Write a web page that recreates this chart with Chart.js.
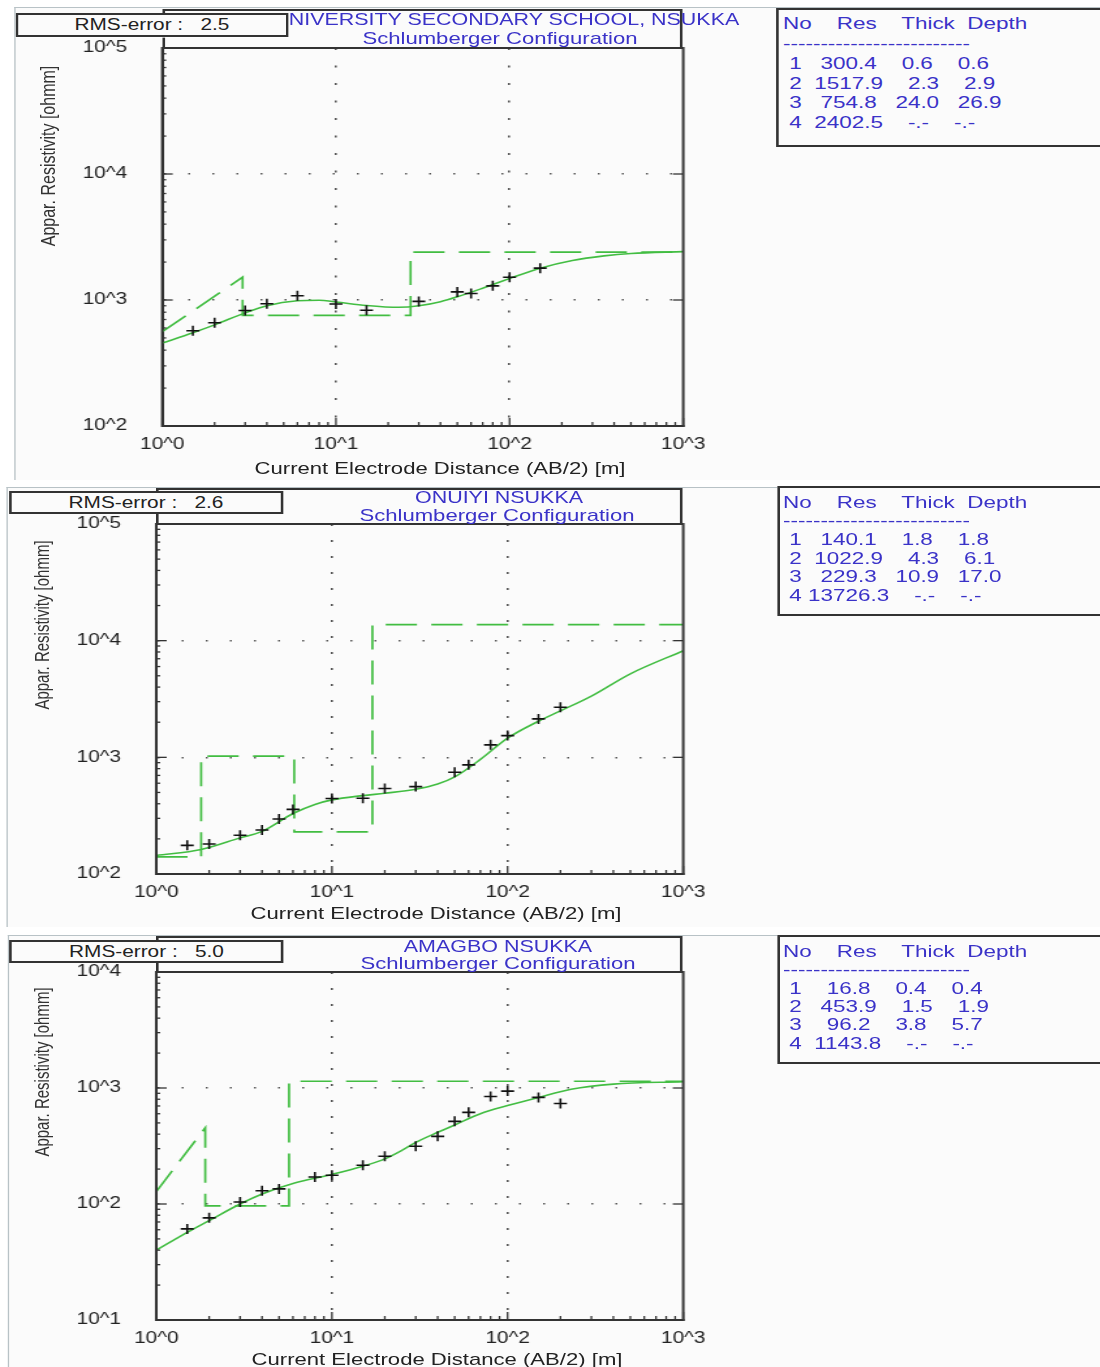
<!DOCTYPE html>
<html>
<head>
<meta charset="utf-8">
<script src="https://cdn.jsdelivr.net/npm/chart.js@4.4.0/dist/chart.umd.min.js"></script>
<style>
  body { margin: 0; background: #fff; width: 1100px; height: 1367px; overflow: hidden; font-family: "Liberation Sans", Arial, sans-serif; }
  /* the picture is stretched sideways, so the whole page is drawn narrow and scaled */
  #page { position: absolute; left: 0; top: 0; width: 847px; height: 1367px; transform: scaleX(1.3); transform-origin: 0 0; }
  #page div { position: absolute; box-sizing: border-box; }
  .frame { border-left: 1px solid #b8c2c6; border-top: 1px solid #b8c2c6; background: #fbfbfb; }
  .box { border: 2px solid #333; background: #fbfbfb; }
  .txt { white-space: pre; }
</style>
</head>
<body>
<div id="page"></div>
<script>
const S = 1.3;
const u = X => X / S;
const FONT = '"Liberation Sans", Arial, sans-serif';
const GREEN = '#42bd42';
const BLUE = '#3a32c8';

const xTicks = [1, 10, 100, 1000];

// UNIVERSITY SECONDARY SCHOOL
const p1Title = ['NIVERSITY SECONDARY SCHOOL, NSUKKA', 'Schlumberger Configuration'];
const p1Rms = '2.5';
const p1YTicks = [100, 1000, 10000, 100000];
const p1ObsX = [1.5, 2, 3, 4, 6, 10, 15, 30, 50, 60, 80, 100, 150];
const p1ObsY = [570, 660, 825, 935, 1080, 930, 830, 975, 1160, 1125, 1295, 1515, 1790];
const p1FitX = [1, 1.5, 2, 3, 4, 6, 8, 10, 15, 23, 30, 40, 50, 70, 100, 150, 230, 350, 500, 1000];
const p1FitY = [455, 550, 635, 790, 900, 985, 995, 965, 905, 875, 900, 970, 1060, 1240, 1480, 1790, 2060, 2240, 2340, 2420];
const p1ModelX = [1, 2.9, 2.9, 26.9, 26.9, 1000];
const p1ModelY = [560, 1517.9, 754.8, 754.8, 2402.5, 2402.5];
const p1Res = [300.4, 1517.9, 754.8, 2402.5];
const p1Thick = [0.6, 2.3, 24.0];
const p1Depth = [0.6, 2.9, 26.9];

// ONUIYI
const p2Title = ['ONUIYI NSUKKA', 'Schlumberger Configuration'];
const p2Rms = '2.6';
const p2YTicks = [100, 1000, 10000, 100000];
const p2ObsX = [1.5, 2, 3, 4, 5, 6, 10, 15, 20, 30, 50, 60, 80, 100, 150, 200];
const p2ObsY = [176, 181, 215, 238, 296, 358, 444, 446, 540, 561, 746, 862, 1280, 1535, 2135, 2690];
const p2FitX = [1, 1.8, 3, 4, 6, 8, 10, 15, 20, 30, 40, 50, 70, 100, 150, 200, 300, 500, 1000];
const p2FitY = [144, 162, 204, 232, 330, 395, 432, 470, 492, 532, 590, 680, 960, 1460, 2040, 2500, 3350, 5200, 8200];
const p2ModelX = [1, 1.8, 1.8, 6.1, 6.1, 17, 17, 1000];
const p2ModelY = [140.1, 140.1, 1022.9, 1022.9, 229.3, 229.3, 13726.3, 13726.3];
const p2Res = [140.1, 1022.9, 229.3, 13726.3];
const p2Thick = [1.8, 4.3, 10.9];
const p2Depth = [1.8, 6.1, 17.0];

// AMAGBO
const p3Title = ['AMAGBO NSUKKA', 'Schlumberger Configuration'];
const p3Rms = '5.0';
const p3YTicks = [10, 100, 1000, 10000];
const p3ObsX = [1.5, 2, 3, 4, 5, 8, 10, 15, 20, 30, 40, 50, 60, 80, 100, 150, 200];
const p3ObsY = [61, 76, 104, 130, 135, 171, 177, 216, 258, 315, 383, 516, 617, 846, 940, 830, 736];
const p3FitX = [1, 1.5, 2, 3, 4, 6, 10, 15, 20, 25, 30, 40, 50, 70, 100, 150, 230, 400, 1000];
const p3FitY = [40, 57, 72, 100, 122, 150, 180, 212, 245, 290, 340, 415, 480, 600, 705, 830, 975, 1080, 1132];
const p3ModelX = [1, 1.9, 1.9, 5.7, 5.7, 1000];
const p3ModelY = [128, 453.9, 96.2, 96.2, 1143.8, 1143.8];
const p3Res = [16.8, 453.9, 96.2, 1143.8];
const p3Thick = [0.4, 1.5, 3.8];
const p3Depth = [0.4, 1.9, 5.7];

const panels = [
  { title: p1Title, rms: p1Rms, yTicks: p1YTicks, obsX: p1ObsX, obsY: p1ObsY, fitX: p1FitX, fitY: p1FitY,
    modelX: p1ModelX, modelY: p1ModelY, res: p1Res, thick: p1Thick, depth: p1Depth,
    frame: [14, 7, 480], rmsBox: [16, 13, 288, 37], plot: { l: 162, t: 48, r: 682, b: 426 }, titleTop: 9,
    titleAt: [[514, 19], [500, 39]], table: [776, 8, 147], tableText: [783, 24, 19.8],
    yTitle: [48, 156, 16], xTitle: [440, 469], vDash: [2, 15.5] },
  { title: p2Title, rms: p2Rms, yTicks: p2YTicks, obsX: p2ObsX, obsY: p2ObsY, fitX: p2FitX, fitY: p2FitY,
    modelX: p2ModelX, modelY: p2ModelY, res: p2Res, thick: p2Thick, depth: p2Depth,
    frame: [7, 487, 927], rmsBox: [9, 491, 283, 514], plot: { l: 156, t: 524, r: 682, b: 874 }, titleTop: 488,
    titleAt: [[499, 497], [497, 516]], table: [777, 486, 616], tableText: [783, 502, 18.6],
    yTitle: [42, 625, 15], xTitle: [436, 914], vDash: [2, 14] },
  { title: p3Title, rms: p3Rms, yTicks: p3YTicks, obsX: p3ObsX, obsY: p3ObsY, fitX: p3FitX, fitY: p3FitY,
    modelX: p3ModelX, modelY: p3ModelY, res: p3Res, thick: p3Thick, depth: p3Depth,
    frame: [8, 935, 1367], rmsBox: [9, 940, 284, 963], plot: { l: 156, t: 972, r: 682, b: 1320 }, titleTop: 936,
    titleAt: [[498, 946], [498, 964]], table: [778, 935, 1064], tableText: [783, 951, 18.4],
    yTitle: [42, 1072, 15], xTitle: [437, 1360], vDash: [2, 14] }
];

const page = document.getElementById('page');

function box(cls, X1, y1, X2, y2, z) {
  const d = document.createElement('div');
  d.className = cls;
  d.style.left = u(X1) + 'px';
  d.style.top = y1 + 'px';
  d.style.width = u(X2 - X1) + 'px';
  d.style.height = (y2 - y1) + 'px';
  d.style.zIndex = z;
  page.appendChild(d);
  return d;
}

function label(str, X, y, size, color, z, rotate) {
  const d = document.createElement('div');
  d.className = 'txt';
  d.textContent = str;
  d.style.left = u(X) + 'px';
  d.style.top = y + 'px';
  d.style.fontSize = size + 'px';
  d.style.color = color;
  d.style.zIndex = z;
  d.style.transform = 'translate(-50%, -50%)' + (rotate ? ' rotate(-90deg)' : '');
  page.appendChild(d);
  return d;
}

function tableLines(res, thick, depth) {
  const lines = ['No    Res    Thick  Depth', '-'.repeat(25)];
  res.forEach((r, i) => {
    const t = i < thick.length ? thick[i].toFixed(1) : '-.-';
    const d = i < depth.length ? depth[i].toFixed(1) : '-.-';
    lines.push(' ' + (i + 1) + r.toFixed(1).padStart(8) + t.padStart(7) + d.padStart(7));
  });
  return lines;
}

const pts = (xs, ys) => xs.map((x, i) => ({ x: x, y: ys[i] }));
const powLabel = v => '10^' + Math.round(Math.log10(v));

// inner tick marks and the closed frame round the plot
const innerTicks = {
  id: 'innerTicks',
  afterDatasetsDraw(chart) {
    const { ctx, chartArea: a, scales: { x, y } } = chart;
    ctx.save();
    ctx.strokeStyle = '#333';
    ctx.lineWidth = 1.3;
    const seg = (x1, y1, x2, y2) => { ctx.beginPath(); ctx.moveTo(x1, y1); ctx.lineTo(x2, y2); ctx.stroke(); };
    for (let d = y.min; d < y.max * 1.001; d *= 10) {
      for (let m = 1; m < 10; m++) {
        const v = d * m;
        if (v > y.max * 1.001) break;
        const py = y.getPixelForValue(v);
        if (m === 1) { seg(a.left, py, a.left + 8, py); seg(a.right - 8, py, a.right, py); }
        else seg(a.left, py, a.left + 3, py);
      }
    }
    for (let d = x.min; d < x.max * 1.001; d *= 10) {
      for (let m = 1; m < 10; m++) {
        const v = d * m;
        if (v > x.max * 1.001) break;
        const px = x.getPixelForValue(v);
        seg(px, a.bottom, px, a.bottom - (m === 1 ? 8 : 4));
      }
    }
    ctx.lineWidth = 2;
    ctx.strokeRect(a.left, a.top, a.right - a.left, a.bottom - a.top);
    ctx.restore();
  }
};

function makeChart(p) {
  // room round the plot must exceed the label padding Chart.js asks for
  const PAD = 45;
  const top = p.plot.t - PAD, bottom = p.plot.b + PAD;
  const W = u(p.plot.r) + 32;
  const wrap = document.createElement('div');
  wrap.style.cssText = `left:0;top:${top}px;width:${W}px;height:${bottom - top}px;z-index:2`;
  const cv = document.createElement('canvas');
  wrap.appendChild(cv);
  page.appendChild(wrap);
  const last = p.yTicks.length - 1;

  new Chart(cv, {
    type: 'line',
    data: {
      datasets: [
        { data: pts(p.obsX, p.obsY), showLine: false, pointStyle: 'cross', pointRadius: 5,
          pointBorderColor: '#111', pointBorderWidth: 1.6, borderColor: '#111' },
        { data: pts(p.fitX, p.fitY), borderColor: GREEN, borderWidth: 1.6, pointRadius: 0,
          cubicInterpolationMode: 'monotone', fill: false },
        { data: pts(p.modelX, p.modelY), borderColor: GREEN, borderWidth: 1.7, borderDash: [24, 11],
          pointRadius: 0, tension: 0, fill: false }
      ]
    },
    options: {
      responsive: true,
      maintainAspectRatio: false,
      animation: false,
      layout: { padding: { left: 0, top: PAD, right: 32, bottom: 0 } },
      plugins: { legend: { display: false }, tooltip: { enabled: false } },
      scales: {
        x: {
          type: 'logarithmic', min: 1, max: 1000,
          afterFit: s => { s.height = PAD; },
          afterBuildTicks: s => { s.ticks = xTicks.map(v => ({ value: v })); },
          ticks: { autoSkip: false, maxRotation: 0, padding: 9, color: '#222',
                   font: { family: FONT, size: 16 }, callback: powLabel },
          grid: { drawTicks: false, lineWidth: 1.6,
                  color: c => (c.index === 0 || c.index === xTicks.length - 1) ? 'transparent' : '#555' },
          border: { color: '#333', width: 2, dash: p.vDash }
        },
        y: {
          type: 'logarithmic', min: p.yTicks[0], max: p.yTicks[last],
          afterFit: s => { s.width = u(p.plot.l); },
          afterBuildTicks: s => { s.ticks = p.yTicks.map(v => ({ value: v })); },
          ticks: { autoSkip: false, padding: 27, color: '#222',
                   font: { family: FONT, size: 16 }, callback: powLabel },
          grid: { drawTicks: false, lineWidth: 1.6,
                  color: c => (c.index === 0 || c.index === last) ? 'transparent' : '#555' },
          border: { color: '#333', width: 2, dash: [1.5, 17] }
        }
      }
    },
    plugins: [innerTicks]
  });
}

panels.forEach(p => {
  box('frame', p.frame[0], p.frame[1], 1110, p.frame[2], 0);
  box('box', p.plot.l, p.titleTop, p.plot.r, p.plot.t + 1, 1);
  p.title.forEach((t, i) => label(t, p.titleAt[i][0], p.titleAt[i][1], i === 0 ? 16.5 : 17, BLUE, 4));

  const r = p.rmsBox;
  const rb = box('box txt', r[0], r[1], r[2], r[3], 5);
  rb.textContent = 'RMS-error :   ' + p.rms;
  rb.style.fontSize = '16px';
  rb.style.color = '#222';
  rb.style.textAlign = 'center';
  rb.style.lineHeight = (r[3] - r[1] - 4) + 'px';

  box('box', p.table[0], p.table[1], 1120, p.table[2], 1);
  const [tx, ty, lh] = p.tableText;
  tableLines(p.res, p.thick, p.depth).forEach((line, i) => {
    const d = document.createElement('div');
    d.className = 'txt';
    d.textContent = line;
    d.style.cssText += `left:${u(tx)}px;top:${ty + i * lh - lh / 2}px;height:${lh}px;line-height:${lh}px;font-size:17.3px;color:${BLUE};z-index:3`;
    page.appendChild(d);
  });

  label('Appar. Resistivity [ohmm]', p.yTitle[0], p.yTitle[1], p.yTitle[2], '#333', 3, true);
  label('Current Electrode Distance (AB/2) [m]', p.xTitle[0], p.xTitle[1], 17, '#222', 3);

  makeChart(p);
});
</script>
</body>
</html>
